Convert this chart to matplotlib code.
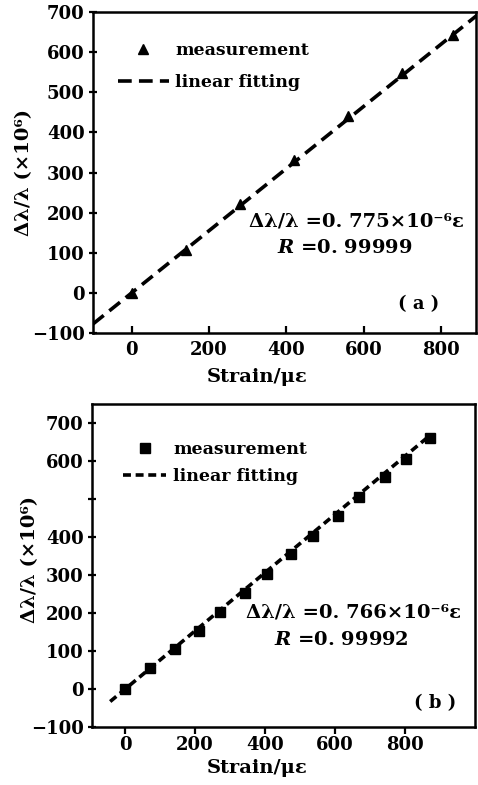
import matplotlib
matplotlib.use("Agg")
import matplotlib.pyplot as plt
import numpy as np

# ---- data (panel a) ----
strain_a = [0, 140, 280, 420, 560, 700, 830]
dl_a = [0, 108, 222, 332, 440, 548, 642]
slope_a = 0.775
fit_a_range = [-100, 893]

# ---- data (panel b) ----
strain_b = [0, 71, 141, 212, 271, 341, 405, 474, 538, 607, 669, 743, 803, 871]
dl_b = [0, 54, 104, 153, 203, 253, 302, 354, 403, 455, 506, 557, 604, 660]
slope_b = 0.766
fit_b_range = [-43, 875]

xticks = [0, 200, 400, 600, 800]
yticks_a = [-100, 0, 100, 200, 300, 400, 500, 600, 700]
yticklabels_a = ["−100", "0", "100", "200", "300", "400", "500", "600", "700"]
yticks_b = [-100, 0, 100, 200, 300, 400, 500, 600, 700]
yticklabels_b = ["−100", "0", "100", "200", "300", "400", "", "600", "700"]

plt.rcParams['font.family'] = ['DejaVu Serif']
plt.rcParams['font.weight'] = 'bold'
plt.rcParams['mathtext.fontset'] = 'custom'
plt.rcParams['mathtext.it'] = 'DejaVu Serif:italic:bold'
plt.rcParams['mathtext.rm'] = 'DejaVu Serif:bold'

fig = plt.figure(figsize=(4.78, 7.85), dpi=100)
W, H = 478, 785

def make_axes(l, t, r, b):
    return fig.add_axes([l / W, 1 - b / H, (r - l) / W, (b - t) / H])

ax_a = make_axes(93, 12, 476, 333)
ax_b = make_axes(92, 404, 475, 727)

FS_TICK = 13
FS_LAB = 14
FS_LEG = 12.5
FS_EQ = 14

def style(ax, xdir, ydir, xpad):
    for s in ax.spines.values():
        s.set_linewidth(1.8)
    ax.tick_params(axis='x', direction=xdir, length=5, width=1.6, labelsize=FS_TICK, pad=xpad)
    ax.tick_params(axis='y', direction=ydir, length=6, width=1.6, labelsize=FS_TICK, pad=3)
    for lab in ax.get_xticklabels() + ax.get_yticklabels():
        lab.set_fontweight('bold')

# Panel a
xs = np.array(fit_a_range)
ax_a.plot(xs, slope_a * xs, ls=(0, (3.8, 2.0)), lw=2.6, color='black', label='linear fitting')
ax_a.plot(strain_a, dl_a, ls='none', marker='^', ms=7, color='black', label='measurement')
ax_a.set_xlim(-100, 890)
ax_a.set_ylim(-100, 700)
ax_a.set_xticks(xticks)
ax_a.set_xticklabels([str(v) for v in xticks])
ax_a.set_yticks(yticks_a)
ax_a.set_yticklabels(yticklabels_a)
style(ax_a, 'in', 'inout', 6)
h, l = ax_a.get_legend_handles_labels()
ax_a.legend(h[::-1], l[::-1], loc='upper left', bbox_to_anchor=(0.025, 0.955), frameon=False,
            handlelength=2.9, handletextpad=0.4, labelspacing=0.85,
            prop={'weight': 'bold', 'size': FS_LEG})
ax_a.set_ylabel("Δλ/λ (×10⁶)", fontsize=FS_LAB, fontweight='bold')
ax_a.yaxis.set_label_coords(-0.157, 0.5)
ax_a.set_xlabel("Strain/με", fontsize=FS_LAB, fontweight='bold')
ax_a.xaxis.set_label_coords(0.428, -0.109)
ax_a.text(0.689, 0.346, "Δλ/λ =0. 775×10⁻⁶ε", transform=ax_a.transAxes,
          ha='center', va='center', fontsize=FS_EQ, fontweight='bold')
ax_a.text(0.658, 0.265, "$R$ =0. 99999", transform=ax_a.transAxes,
          ha='center', va='center', fontsize=FS_EQ, fontweight='bold')
ax_a.text(0.849, 0.09, "( a )", transform=ax_a.transAxes,
          ha='center', va='center', fontsize=13, fontweight='bold')

# Panel b
xs = np.array(fit_b_range)
ax_b.plot(xs, slope_b * xs, ls=(0, (2.2, 1.3)), lw=2.6, color='black', label='linear fitting')
ax_b.plot(strain_b, dl_b, ls='none', marker='s', ms=6.5, color='black', label='measurement')
ax_b.set_xlim(-95, 1000)
ax_b.set_ylim(-100, 750)
ax_b.set_xticks(xticks)
ax_b.set_xticklabels([str(v) for v in xticks])
ax_b.set_yticks(yticks_b)
ax_b.set_yticklabels(yticklabels_b)
style(ax_b, 'out', 'inout', 1.5)
h, l = ax_b.get_legend_handles_labels()
ax_b.legend(h[::-1], l[::-1], loc='upper left', bbox_to_anchor=(0.04, 0.935), frameon=False,
            handlelength=2.5, handletextpad=0.4, labelspacing=0.6,
            prop={'weight': 'bold', 'size': FS_LEG})
ax_b.set_ylabel("Δλ/λ (×10⁶)", fontsize=FS_LAB, fontweight='bold')
ax_b.yaxis.set_label_coords(-0.138, 0.52)
ax_b.set_xlabel("Strain/με", fontsize=FS_LAB, fontweight='bold')
ax_b.xaxis.set_label_coords(0.43, -0.1)
ax_b.text(0.684, 0.356, "Δλ/λ =0. 766×10⁻⁶ε", transform=ax_b.transAxes,
          ha='center', va='center', fontsize=FS_EQ, fontweight='bold')
ax_b.text(0.650, 0.269, "$R$ =0. 99992", transform=ax_b.transAxes,
          ha='center', va='center', fontsize=FS_EQ, fontweight='bold')
ax_b.text(0.896, 0.074, "( b )", transform=ax_b.transAxes,
          ha='center', va='center', fontsize=13, fontweight='bold')

fig.savefig("out.png", dpi=100)
